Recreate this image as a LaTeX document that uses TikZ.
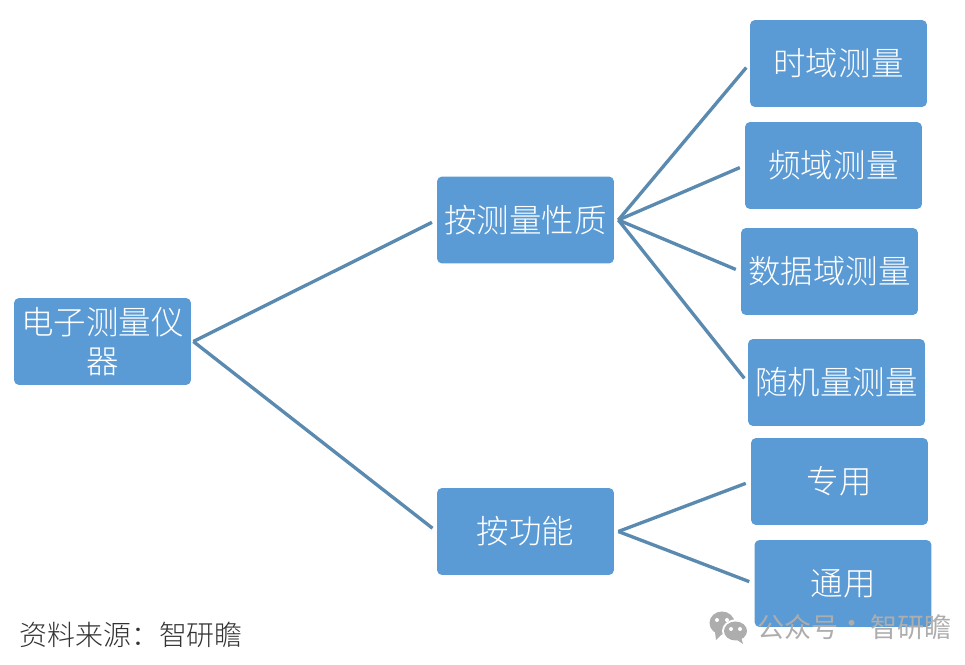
\documentclass[tikz,border=0pt]{standalone}
\usepackage{fontspec}
\setmainfont{Noto Sans CJK SC Light}
\newfontfamily\markcjk{Noto Sans CJK SC}
\definecolor{boxblue}{HTML}{5B9BD5}
\definecolor{linkblue}{HTML}{5A8AB0}
\tikzset{
	boxnode/.style={fill=boxblue, rounded corners=0.1cm, minimum width=3.54cm, minimum height=1.74cm, inner sep=0pt, align=center, text=white, font=\fontsize{18.5pt}{22pt}\selectfont},
	linkline/.style={line width=1.9pt, linkblue, line join=round, shorten >=3pt},
	markfont/.style={font=\markcjk\fontsize{15.4pt}{18pt}\selectfont, text=black!32, inner sep=0pt}
}
\begin{document}
\begin{tikzpicture}[x=0.02cm, y=-0.02cm]
	\useasboundingbox (0,0) rectangle (965,665);
	\node[boxnode] (instrument) at (102.5,341.5) {电子测量仪\\器};
	\node[boxnode] (nature) at (525.5,220) {按测量性质};
	\node[boxnode] (function) at (525.5,531.5) {按功能};
	\foreach \name/\xx/\yy/\txt in {time/838.5/63.5/时域测量, freq/833.5/165.5/频域测量, data/829.5/271.5/数据域测量, rand/836.5/382.5/随机量测量, special/839.5/481.5/专用, general/843/583.5/通用} {
			\node[boxnode] (\name) at (\xx,\yy) {\txt};
		}
	\coordinate (instrumenthub) at ([xshift=0.04cm]instrument.east);
	\coordinate (naturehub) at ([xshift=0.08cm]nature.east);
	\coordinate (functionhub) at ([xshift=0.08cm]function.east);
	\draw[linkline] (instrumenthub) -- (nature.west);
	\draw[linkline] (instrumenthub) -- (function.west);
	\foreach \name in {time,freq,data,rand} {
			\draw[linkline] (naturehub) -- (\name.west);
		}
	\foreach \name in {special,general} {
			\draw[linkline] (functionhub) -- (\name.west);
		}
	\node[anchor=west, inner sep=0pt, text=black!80, font=\fontsize{15.9pt}{18pt}\selectfont] (source) at (19,635) {资料来源：智研瞻};
	% watermark
	\fill[black!32] (722,623) ellipse (12.5 and 11.5);
	\fill[black!32] (715,632) -- (716,640) -- (724,632) -- cycle;
	\fill[white] (735.5,631) ellipse (13.5 and 11.5);
	\fill[black!32] (735.5,631) ellipse (11.5 and 9.5);
	\fill[black!32] (741,637) -- (743,644) -- (734,638) -- cycle;
	\foreach \xx/\yy in {717/620,727/620,731/629,740/629} {
			\fill[white] (\xx,\yy) circle (2);
		}
	\node[markfont, anchor=west] (mark) at (757,627) {公众号};
	\node[markfont] (dot) at (852,627) {·};
	\node[markfont, anchor=west] (markname) at (870,627) {智研瞻};
\end{tikzpicture}
\end{document}
